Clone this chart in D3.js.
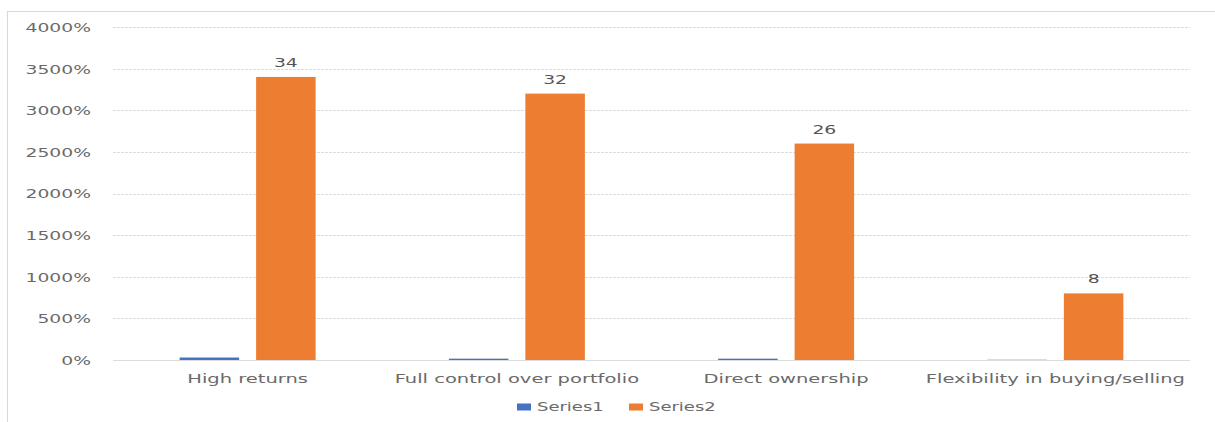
<!DOCTYPE html>
<html>
<head>
<meta charset="utf-8">
<script src="https://cdn.jsdelivr.net/npm/d3@7"></script>
<style>
  body { margin: 0; background: #fff; }
  svg text { font-family: "DejaVu Sans", sans-serif; fill: #6a6a6a; }
</style>
</head>
<body>
<svg id="chart"></svg>
<script>
// chart values (Series2 is 34 -> shown as 3400% on the axis)
const categories = ["High returns", "Full control over portfolio", "Direct ownership", "Flexibility in buying/selling"];
const seriesNames = ["Series1", "Series2"];
const series1 = [0.3, 0.16, 0.16, 0.03];
const series2 = [34, 32, 26, 8];
const yTicks = [0, 5, 10, 15, 20, 25, 30, 35, 40];
const colors = {Series1: "#4472C4", Series2: "#ED7D31"};

const width = 1215, height = 422;
const plot = {left: 113, right: 1190, top: 27, bottom: 360};
const stretch = "scale(1.5,1)"; // the source picture is stretched sideways

const svg = d3.select("#chart")
    .attr("width", width)
    .attr("height", height);

// outer chart frame
svg.append("rect")
    .attr("x", 7.5).attr("y", 11.5)
    .attr("width", 1300).attr("height", 500)
    .attr("fill", "none")
    .attr("stroke", "#d9d9d9");

const y = d3.scaleLinear().domain([0, 40]).range([plot.bottom, plot.top]);

const x0 = d3.scaleBand()
    .domain(categories)
    .range([plot.left, plot.right])
    .paddingInner(0.495)
    .paddingOuter(0.2475);

const x1 = d3.scaleBand()
    .domain(seriesNames)
    .range([0, x0.bandwidth()])
    .paddingInner(0.222);

// grid lines
svg.append("g")
    .selectAll("line")
    .data(yTicks)
    .join("line")
    .attr("x1", plot.left).attr("x2", plot.right)
    .attr("y1", d => Math.round(y(d)) + 0.5)
    .attr("y2", d => Math.round(y(d)) + 0.5)
    .attr("stroke", "#dcdcdc")
    .attr("stroke-dasharray", d => d === 0 ? null : "3,1");

// y axis labels
const yAxis = svg.append("g")
    .attr("transform", "translate(" + plot.left + ",0)")
    .call(d3.axisLeft(y).tickValues(yTicks).tickSize(0).tickFormat(d3.format(".0%")));
yAxis.select(".domain").remove();
yAxis.selectAll("text")
    .attr("x", 0)
    .attr("dy", "0.35em")
    .attr("text-anchor", "end")
    .attr("transform", "translate(-22,0) " + stretch)
    .attr("font-size", 12.5)
    .attr("font-family", null)
    .attr("fill", null);

// bars
const rows = categories.map((c, i) => ({cat: c, values: [
    {name: "Series1", value: series1[i]},
    {name: "Series2", value: series2[i]}
]}));

const groups = svg.append("g")
    .selectAll("g")
    .data(rows)
    .join("g")
    .attr("transform", d => "translate(" + x0(d.cat) + ",0)");

groups.selectAll("rect")
    .data(d => d.values)
    .join("rect")
    .attr("x", d => x1(d.name))
    .attr("width", x1.bandwidth())
    .attr("y", d => y(d.value))
    .attr("height", d => y(0) - y(d.value))
    .attr("fill", d => colors[d.name]);

// data labels on Series2
groups.selectAll("text.lbl")
    .data(d => d.values.filter(v => v.name === "Series2"))
    .join("text")
    .attr("class", "lbl")
    .attr("text-anchor", "middle")
    .attr("transform", d => "translate(" + (x1(d.name) + x1.bandwidth() / 2) + "," + (y(d.value) - 10) + ") " + stretch)
    .attr("font-size", 12.5)
    .style("fill", "#555")
    .text(d => d.value);

// category labels
svg.append("g")
    .selectAll("text")
    .data(categories)
    .join("text")
    .attr("text-anchor", "middle")
    .attr("transform", d => "translate(" + (x0(d) + x0.bandwidth() / 2) + ",383) " + stretch)
    .attr("font-size", 13)
    .text(d => d);

// legend
const legend = svg.append("g")
    .selectAll("g")
    .data(seriesNames)
    .join("g")
    .attr("transform", (d, i) => "translate(" + (517 + i * 112) + ",0)");

legend.append("rect")
    .attr("x", 0).attr("y", 403.5)
    .attr("width", 14).attr("height", 7)
    .attr("fill", d => colors[d]);

legend.append("text")
    .attr("transform", "translate(20,411) " + stretch)
    .attr("font-size", 12)
    .text(d => d);
</script>
</body>
</html>
